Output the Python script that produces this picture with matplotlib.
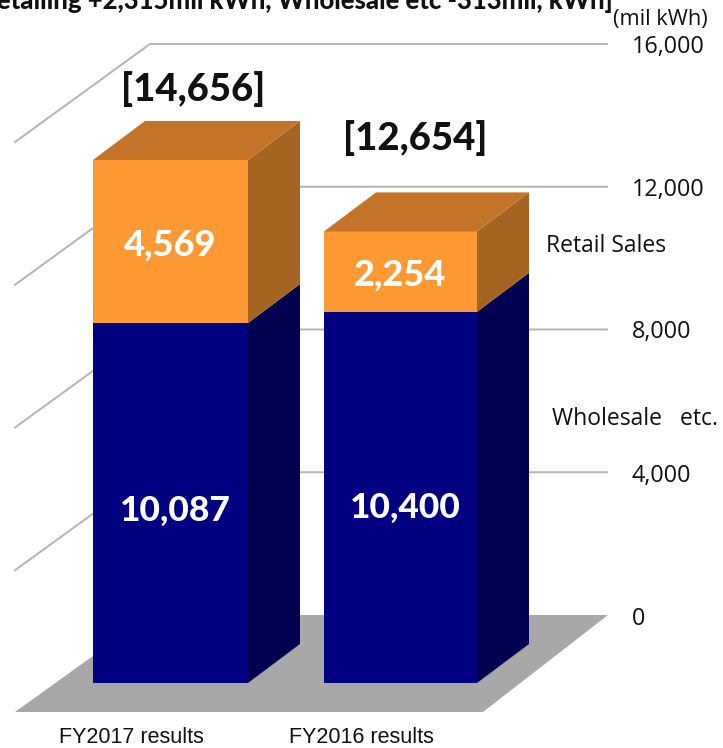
import matplotlib
matplotlib.use("Agg")
import matplotlib.pyplot as plt
from matplotlib.patches import Polygon

categories = ["FY2017 results", "FY2016 results"]
retail = [4569, 2254]
wholesale = [10087, 10400]
totals = [14656, 12654]
retail_labels = ["4,569", "2,254"]
wholesale_labels = ["10,087", "10,400"]
total_labels = ["[14,656]", "[12,654]"]
ticks = [0, 4000, 8000, 12000, 16000]
tick_labels = ["0", "4,000", "8,000", "12,000", "16,000"]
title = "[Retailing +2,315mil kWh, Wholesale etc -313mil, kWh]"

W, H = 723, 748
PX = 142.75 / 4000      # pixels per mil kWh
BASE = 683              # pixel row of the front of value 0


def row(p):
    """Pixel row to axis value, for text placement."""
    return (BASE - p) / PX


fig = plt.figure(figsize=(W / 100, H / 100), dpi=100, facecolor="white")
ax = fig.add_axes([0, 0, 1, 1])
ax.set_xlim(0, W)
ax.set_ylim(row(H), row(0))
ax.axis("off")

DY = 39 / PX            # bar depth in value units
DX = 52
WALL = 68 / PX          # back wall offset in value units
FLOOR_F = -29 / PX      # floor front edge
GRID = "#B4B4B4"

# floor
ax.add_patch(Polygon([(15, FLOOR_F), (483, FLOOR_F), (608, WALL), (150, WALL)],
                     closed=True, fc="#A8A8A8", ec="none", zorder=1))
# gridlines
for t in ticks[1:]:
    ax.plot([15, 150, 607], [t + WALL - 98 / PX, t + WALL, t + WALL],
            color=GRID, lw=1.4, zorder=1, solid_joinstyle="miter")
for lab, p in zip(tick_labels, [619, 476, 332, 190, 47]):
    ax.text(632, row(p), lab, ha="left", va="center", fontsize=16.8,
            family="Open Sans", color="#111111", zorder=5)


def box(x0, x1, lo, hi, front, side, top=None):
    ax.add_patch(Polygon([(x0, lo), (x1, lo), (x1, hi), (x0, hi)], fc=front, ec="none", zorder=3))
    ax.add_patch(Polygon([(x1, lo), (x1 + DX, lo + DY), (x1 + DX, hi + DY), (x1, hi)],
                         fc=side, ec="none", zorder=3))
    if top:
        ax.add_patch(Polygon([(x0, hi), (x1, hi), (x1 + DX, hi + DY), (x0 + DX, hi + DY)],
                             fc=top, ec="none", zorder=3))


bars_x = [(93, 248), (324, 477)]
w_lab = [(175, 511), (405, 508)]
r_lab = [(170, 245), (400, 275)]
t_lab = [(193, 89), (415, 138)]
cat_x = [131, 361]
for i, (x0, x1) in enumerate(bars_x):
    w, r = wholesale[i], retail[i]
    box(x0, x1, 0, w, "#000080", "#000050")
    box(x0, x1, w, w + r, "#FF9933", "#A66422", "#C47428")
    ax.text(w_lab[i][0], row(w_lab[i][1]), wholesale_labels[i], ha="center", va="center",
            fontsize=25.5, fontweight="black", family="Lato", color="white", zorder=6)
    ax.text(r_lab[i][0], row(r_lab[i][1]), retail_labels[i], ha="center", va="center",
            fontsize=26, fontweight="black", family="Lato", color="white", zorder=6)
    ax.text(t_lab[i][0], row(t_lab[i][1]), total_labels[i], ha="center", va="center",
            fontsize=27.5, fontweight="black", family="Lato", color="#111111", zorder=6)
    ax.text(cat_x[i], row(737.5), categories[i], ha="center", va="center",
            fontsize=15.5, family="Liberation Sans", color="#111111")

ax.text(606, row(246), "Retail Sales", ha="center", va="center",
        fontsize=16.5, family="Open Sans", color="#111111")
ax.text(635, row(419), "Wholesale   etc.", ha="center", va="center",
        fontsize=16.5, family="Open Sans", color="#111111")
ax.text(708, row(20), "(mil kWh)", ha="right", va="center",
        fontsize=15.7, family="Open Sans", color="#111111")
ax.text(613, row(0.5), title, ha="right", va="center",
        fontsize=18.5, fontweight="black", family="Lato", color="#111111")

fig.savefig("out.png", dpi=100)
